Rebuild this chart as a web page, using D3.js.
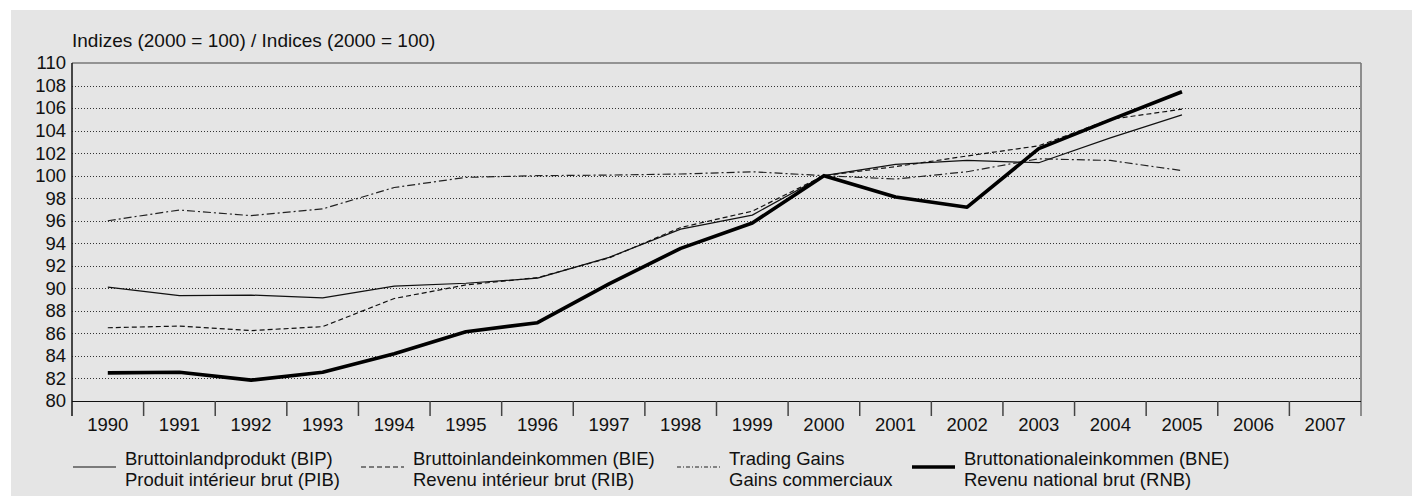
<!doctype html>
<html lang="de">

<head>
  <title>Indizes (2000 = 100)</title>
  <meta charset="utf-8">
  <style>
    html, body { margin: 0; padding: 0; background: #ffffff; }
    #chart { width: 1412px; height: 497px; }
    text { font-family: "Liberation Sans", Arial, Helvetica, sans-serif; fill: #111; }
  </style>
</head>

<body>
  <div id="chart"></div>

  <script src="https://d3js.org/d3.v7.min.js"></script>

  <script>
    // Data ------------------------------------------------------------------------------------------------------------
    const years = ["1990", "1991", "1992", "1993", "1994", "1995", "1996", "1997", "1998",
      "1999", "2000", "2001", "2002", "2003", "2004", "2005", "2006", "2007"];
    const dataYears = years.slice(0, 16);

    const bip = [90.1, 89.35, 89.4, 89.15, 90.2, 90.45, 90.9, 92.75, 95.25, 96.5, 100.0, 101.0, 101.35, 101.15, 103.35, 105.4];
    const bie = [86.5, 86.65, 86.25, 86.6, 89.1, 90.3, 90.95, 92.7, 95.4, 96.85, 100.0, 100.8, 101.75, 102.65, 105.0, 105.9];
    const tradingGains = [96.0, 96.95, 96.45, 97.05, 98.95, 99.85, 100.0, 100.05, 100.15, 100.35, 100.0, 99.7, 100.35, 101.5, 101.35, 100.45];
    const bne = [82.5, 82.55, 81.85, 82.55, 84.2, 86.15, 86.95, 90.4, 93.55, 95.8, 100.0, 98.1, 97.2, 102.4, 104.95, 107.45];

    const yTicks = [80, 82, 84, 86, 88, 90, 92, 94, 96, 98, 100, 102, 104, 106, 108, 110];
    const titleText = "Indizes (2000 = 100) / Indices (2000 = 100)";

    const legendLines = [
      ["Bruttoinlandprodukt (BIP)", "Produit intérieur brut (PIB)"],
      ["Bruttoinlandeinkommen (BIE)", "Revenu intérieur brut (RIB)"],
      ["Trading Gains", "Gains commerciaux"],
      ["Bruttonationaleinkommen (BNE)", "Revenu national brut (RNB)"]
    ];

    // Series styles (same order as the legend)
    const seriesStyle = [
      { values: bip, width: 1.2, dash: null, legendDash: null, color: "#111" },
      { values: bie, width: 1.2, dash: "5,3", legendDash: "5,3", color: "#111" },
      { values: tradingGains, width: 1.2, dash: "8,3,2,3", legendDash: "4,2,1,2", color: "#222" },
      { values: bne, width: 3.6, dash: null, legendDash: null, color: "#000" }
    ];

    // Canvas ----------------------------------------------------------------------------------------------------------
    const width = 1412;
    const height = 497;
    const plot = { left: 72, right: 1361, top: 63, bottom: 401 };
    const axisFont = 18.5;
    const textFont = 19;
    const legendFont = 18.5;

    const svg = d3.select("#chart")
      .append("svg")
      .attr("width", width)
      .attr("height", height)
      .attr("viewBox", [0, 0, width, height]);

    svg.append("rect")
      .attr("x", 11)
      .attr("y", 10)
      .attr("width", width - 11)
      .attr("height", 486)
      .style("fill", "#e5e5e5");

    // Scales ----------------------------------------------------------------------------------------------------------
    const x = d3.scaleBand()
      .domain(years)
      .range([plot.left, plot.right])
      .padding(0);

    const y = d3.scaleLinear()
      .domain([80, 110])
      .range([plot.bottom, plot.top]);

    // Gridlines -------------------------------------------------------------------------------------------------------
    svg.append("g")
      .selectAll("line")
      .data(yTicks.filter(d => d > 80 && d < 110))
      .join("line")
      .attr("x1", plot.left)
      .attr("x2", plot.right)
      .attr("y1", d => Math.round(y(d)) + 0.5)
      .attr("y2", d => Math.round(y(d)) + 0.5)
      .style("stroke", "#333")
      .style("stroke-width", 1)
      .style("stroke-dasharray", "1,2");

    // Frame: grey top and right edge
    svg.append("line")
      .attr("x1", plot.left)
      .attr("x2", plot.right)
      .attr("y1", plot.top)
      .attr("y2", plot.top)
      .style("stroke", "#777")
      .style("stroke-width", 1.6);

    svg.append("line")
      .attr("x1", plot.right)
      .attr("x2", plot.right)
      .attr("y1", plot.top)
      .attr("y2", plot.bottom + 15)
      .style("stroke", "#777")
      .style("stroke-width", 1.6);

    // Y axis ----------------------------------------------------------------------------------------------------------
    const yAxis = svg.append("g")
      .attr("transform", "translate(" + plot.left + ",0)")
      .call(d3.axisLeft(y).tickValues(yTicks).tickSize(0).tickPadding(6));

    yAxis.select(".domain").remove();
    yAxis.selectAll("text")
      .style("font-size", axisFont + "px")
      .style("font-family", "\"Liberation Sans\", Arial, sans-serif")
      .style("fill", "#111");

    svg.append("line")
      .attr("x1", plot.left)
      .attr("x2", plot.left)
      .attr("y1", plot.top)
      .attr("y2", plot.bottom + 15)
      .style("stroke", "#111")
      .style("stroke-width", 1.5);

    // X axis ----------------------------------------------------------------------------------------------------------
    const xAxis = svg.append("g")
      .attr("transform", "translate(0," + plot.bottom + ")")
      .call(d3.axisBottom(x).tickSize(0).tickPadding(0));

    xAxis.select(".domain").remove();
    xAxis.selectAll("text")
      .attr("dy", null)
      .attr("y", 30)
      .style("font-size", axisFont + "px")
      .style("font-family", "\"Liberation Sans\", Arial, sans-serif")
      .style("fill", "#111");

    svg.append("line")
      .attr("x1", plot.left)
      .attr("x2", plot.right)
      .attr("y1", plot.bottom + 0.5)
      .attr("y2", plot.bottom + 0.5)
      .style("stroke", "#111")
      .style("stroke-width", 1.2);

    // tick marks between the years
    svg.append("g")
      .selectAll("line")
      .data(years.slice(1))
      .join("line")
      .attr("x1", d => x(d))
      .attr("x2", d => x(d))
      .attr("y1", plot.bottom)
      .attr("y2", plot.bottom + 15)
      .style("stroke", "#444")
      .style("stroke-width", 1.5);

    // Title -----------------------------------------------------------------------------------------------------------
    svg.append("text")
      .attr("x", plot.left)
      .attr("y", 47)
      .style("font-size", textFont + "px")
      .text(titleText);

    // Lines -----------------------------------------------------------------------------------------------------------
    const lineGen = d3.line()
      .x((d, i) => x(dataYears[i]) + x.bandwidth() / 2)
      .y(d => y(d));

    svg.append("g")
      .selectAll("path")
      .data(seriesStyle)
      .join("path")
      .attr("d", d => lineGen(d.values))
      .style("fill", "none")
      .style("stroke", d => d.color)
      .style("stroke-width", d => d.width)
      .style("stroke-dasharray", d => d.dash)
      .style("stroke-linejoin", "round");

    // Legend ----------------------------------------------------------------------------------------------------------
    const legendX = [73, 361, 677, 912];
    const sampleWidth = 43;
    const legendY = 467;

    const legend = svg.append("g")
      .selectAll("g")
      .data(seriesStyle)
      .join("g")
      .attr("transform", (d, i) => "translate(" + legendX[i] + "," + legendY + ")");

    legend.append("line")
      .attr("x1", 0)
      .attr("x2", sampleWidth)
      .attr("y1", 0)
      .attr("y2", 0)
      .style("stroke", d => d.color)
      .style("stroke-width", d => d.width)
      .style("stroke-dasharray", d => d.legendDash);

    // two lines per entry, kept apart so the glyph boxes do not overlap
    const legendText = legend.append("text")
      .attr("y", -2)
      .style("font-size", legendFont + "px");

    legendText.append("tspan")
      .attr("x", sampleWidth + 9)
      .text((d, i) => legendLines[i][0]);

    legendText.append("tspan")
      .attr("x", sampleWidth + 9)
      .attr("dy", 20.5)
      .text((d, i) => legendLines[i][1]);
  </script>

</body>

</html>
